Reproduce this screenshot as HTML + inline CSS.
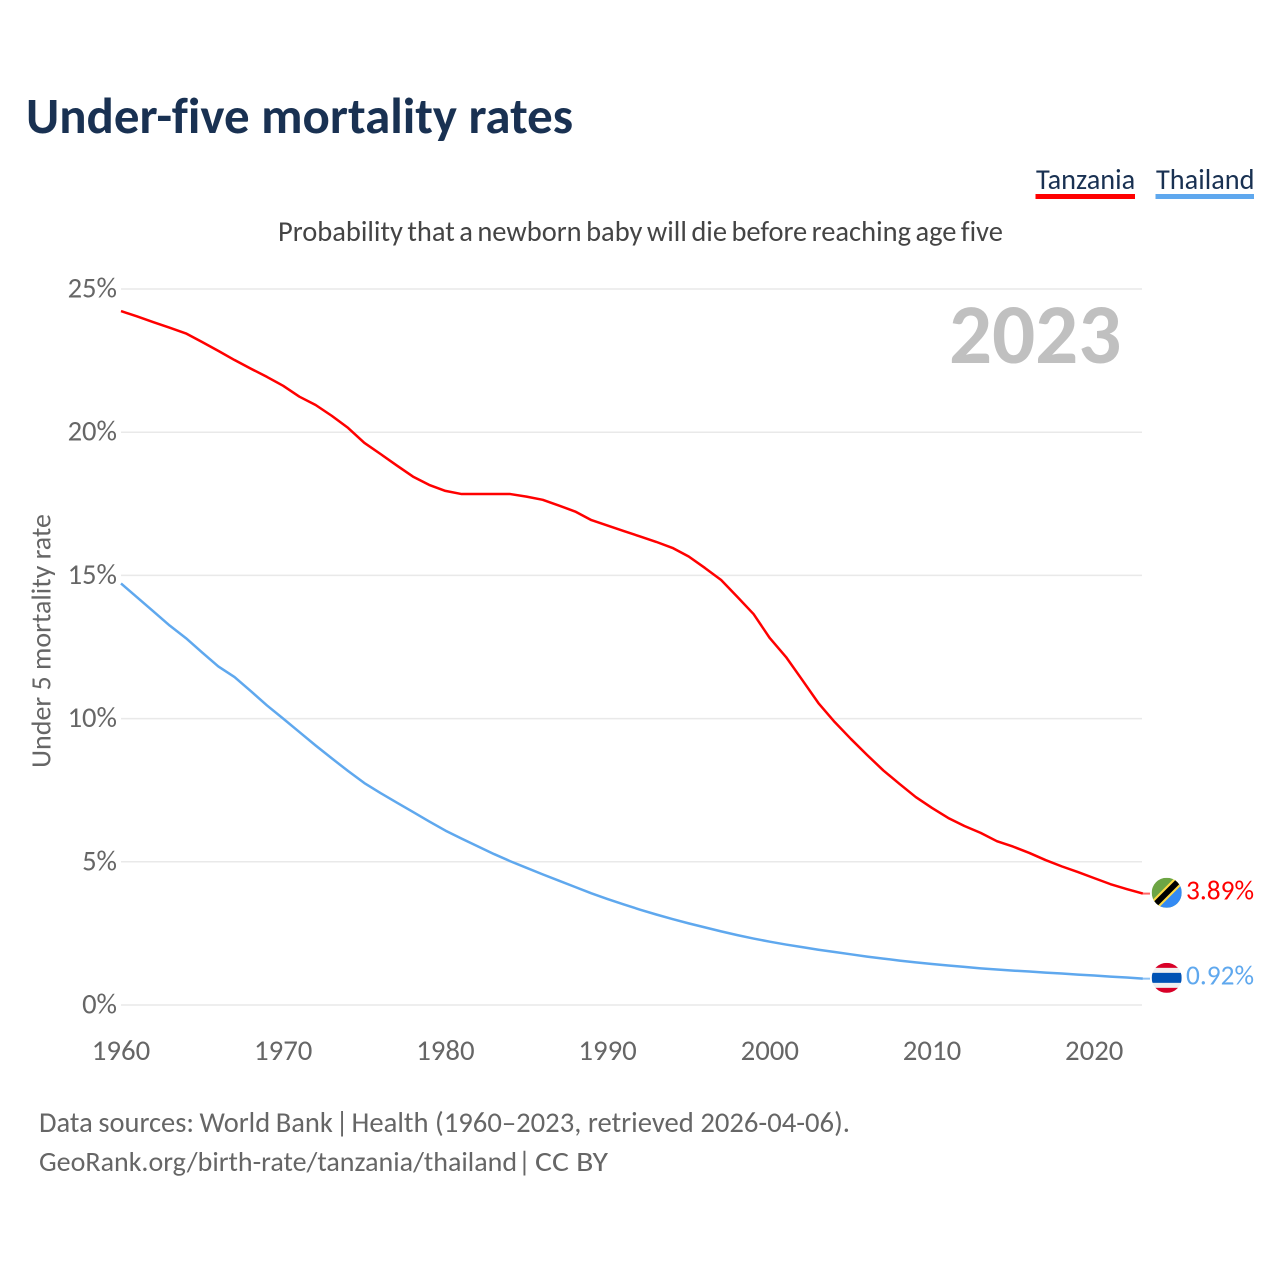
<!DOCTYPE html>
<html lang="en">
<head>
<meta charset="utf-8">
<title>Under-five mortality rates</title>
<style>
html,body{margin:0;padding:0;background:#fff;width:1280px;height:1280px;overflow:hidden}
svg{display:block}
text{font-family:"Carlito","Lato","Liberation Sans",sans-serif;font-variant-ligatures:none}
</style>
</head>
<body>
<svg id="chart" xmlns="http://www.w3.org/2000/svg" width="1280" height="1280" viewBox="0 0 1280 1280">
  <defs>
    <clipPath id="flag-clip"><circle cx="0" cy="0" r="15"></circle></clipPath>
  </defs>
  <rect x="0" y="0" width="1280" height="1280" fill="#ffffff"></rect>
  <text x="26" y="133" font-size="50.9" font-weight="700" fill="#193152">Under-five mortality rates</text>
  <g>
    <text x="1036" y="189" font-size="28.3" fill="#193152">Tanzania</text>
    <rect x="1035.5" y="194" width="99.5" height="5" fill="#ff0000"></rect>
    <text x="1156" y="189" font-size="28.3" fill="#193152">Thailand</text>
    <rect x="1155.5" y="194" width="98.5" height="5" fill="#5fa8ee"></rect>
  </g>
  <text x="278" y="241" font-size="28.5" word-spacing="-2" fill="#444444">Probability that a newborn baby will die before reaching age five</text>
  <g id="grid"></g>
  <g id="y-ticks"></g>
  <g id="x-ticks"></g>
  <text transform="translate(50.5,641) rotate(-90)" text-anchor="middle" font-size="28" fill="#666666">Under 5 mortality rate</text>
  <text x="949" y="363" font-size="85" font-weight="700" fill="#c0c0c0">2023</text>
  <g id="series"></g>
  <g id="flag-tanzania" clip-path="url(#flag-clip)">
    <rect x="-15" y="-15" width="30" height="30" fill="#6da544"></rect>
    <polygon points="15,-15 15,15 -15,15" fill="#338af3"></polygon>
    <polygon points="-16,9 9,-16 16,-9 -9,16" fill="#ffda44"></polygon>
    <polygon points="-16,12 12,-16 16,-12 -12,16" fill="#000000"></polygon>
  </g>
  <g id="flag-thailand" clip-path="url(#flag-clip)">
    <rect x="-15" y="-15" width="30" height="30" fill="#f0f0f0"></rect>
    <rect x="-15" y="-15" width="30" height="5" fill="#d80027"></rect>
    <rect x="-15" y="-5" width="30" height="10" fill="#0052b4"></rect>
    <rect x="-15" y="10" width="30" height="5" fill="#d80027"></rect>
  </g>
  <g id="end-labels"></g>
  <g font-size="28.5" fill="#666666">
    <text x="39" y="1132" word-spacing="-0.9">Data sources: World Bank</text>
    <text x="342" y="1132" text-anchor="middle">|</text>
    <text x="351.5" y="1132" textLength="498.5" lengthAdjust="spacingAndGlyphs">Health (1960–2023, retrieved 2026-04-06).</text>
  </g>
  <g font-size="28" fill="#666666">
    <text x="39" y="1171">GeoRank.org/birth-rate/tanzania/thailand</text>
    <text x="524.5" y="1171" text-anchor="middle">|</text>
    <text x="535" y="1171" textLength="73" lengthAdjust="spacingAndGlyphs">CC BY</text>
  </g>
</svg>
<script>
const firstYear = 1960;
const tanzaniaValues = [
  24.23,24.04,23.84,23.65,23.45,23.15,22.84,22.52,22.22,21.93,
  21.62,21.24,20.95,20.57,20.15,19.63,19.24,18.84,18.45,18.16,
  17.95,17.84,17.84,17.84,17.84,17.75,17.64,17.44,17.23,16.93,
  16.74,16.55,16.36,16.17,15.96,15.66,15.26,14.84,14.25,13.65,
  12.81,12.15,11.35,10.54,9.88,9.29,8.73,8.19,7.72,7.26,
  6.88,6.53,6.25,6.01,5.72,5.53,5.31,5.06,4.84,4.64,
  4.43,4.22,4.05,3.89
];
const thailandValues = [
  14.72,14.23,13.74,13.25,12.81,12.31,11.82,11.45,10.96,10.46,
  10.00,9.53,9.06,8.61,8.17,7.75,7.40,7.07,6.74,6.41,
  6.09,5.81,5.54,5.27,5.02,4.79,4.56,4.34,4.12,3.90,
  3.70,3.51,3.33,3.16,3.00,2.85,2.71,2.57,2.44,2.32,
  2.21,2.11,2.02,1.93,1.85,1.77,1.69,1.62,1.55,1.49,
  1.43,1.38,1.33,1.28,1.24,1.20,1.17,1.13,1.10,1.06,
  1.03,0.99,0.96,0.92
];
const yTickValues = [0,5,10,15,20,25];
const xTickYears = [1960,1970,1980,1990,2000,2010,2020];

const SVG_NS = 'http://www.w3.org/2000/svg';
function xScale(year){ return 121 + (year - 1960) * 16.22; }
function yScale(value){ return 1005 - value * 28.64; }
function make(tag, parent){
  const el = document.createElementNS(SVG_NS, tag);
  parent.appendChild(el);
  return el;
}

const grid = document.getElementById('grid');
const yTicks = document.getElementById('y-ticks');
yTickValues.forEach(function(v){
  const line = make('line', grid);
  
  
  line.setAttribute('x1', 121);
  line.setAttribute('x2', 1142);
  line.setAttribute('y1', yScale(v));
  line.setAttribute('y2', yScale(v));
  line.setAttribute('stroke', '#e9e9e9');
  line.setAttribute('stroke-width', '1.5');
  const label = make('text', yTicks);
  
  
  label.setAttribute('x', 117);
  label.setAttribute('y', yScale(v) + 8.5);
  label.setAttribute('text-anchor', 'end');
  label.setAttribute('font-size', '28.6');
  label.setAttribute('fill', '#666666');
  label.textContent = v + '%';
});

const xTicks = document.getElementById('x-ticks');
xTickYears.forEach(function(yr){
  const label = make('text', xTicks);
  
  
  label.setAttribute('x', xScale(yr));
  label.setAttribute('y', 1060);
  label.setAttribute('text-anchor', 'middle');
  label.setAttribute('font-size', '28.8');
  label.setAttribute('fill', '#666666');
  label.textContent = yr;
});

function linePath(values){
  return values.map(function(v, i){
    return (i ? 'L' : 'M') + xScale(firstYear + i).toFixed(2) + ' ' + yScale(v).toFixed(2);
  }).join(' ');
}

const series = document.getElementById('series');
const endLabels = document.getElementById('end-labels');

function lastOf(values){ return values[values.length - 1]; }

const tanzaniaTail = make('line', series);


tanzaniaTail.setAttribute('x1', xScale(firstYear + tanzaniaValues.length - 1));
tanzaniaTail.setAttribute('x2', 1150);
tanzaniaTail.setAttribute('y1', yScale(lastOf(tanzaniaValues)));
tanzaniaTail.setAttribute('y2', yScale(lastOf(tanzaniaValues)));
tanzaniaTail.setAttribute('stroke', '#ff0000');
tanzaniaTail.setAttribute('stroke-opacity', '0.6');
tanzaniaTail.setAttribute('stroke-width', '2');

const thailandTail = make('line', series);


thailandTail.setAttribute('x1', xScale(firstYear + thailandValues.length - 1));
thailandTail.setAttribute('x2', 1150);
thailandTail.setAttribute('y1', yScale(lastOf(thailandValues)));
thailandTail.setAttribute('y2', yScale(lastOf(thailandValues)));
thailandTail.setAttribute('stroke', '#5fa8ee');
thailandTail.setAttribute('stroke-opacity', '0.7');
thailandTail.setAttribute('stroke-width', '2');

const tanzaniaLine = make('path', series);


tanzaniaLine.setAttribute('d', linePath(tanzaniaValues));
tanzaniaLine.setAttribute('fill', 'none');
tanzaniaLine.setAttribute('stroke', '#ff0000');
tanzaniaLine.setAttribute('stroke-width', '2.5');
tanzaniaLine.setAttribute('stroke-linejoin', 'round');

const thailandLine = make('path', series);


thailandLine.setAttribute('d', linePath(thailandValues));
thailandLine.setAttribute('fill', 'none');
thailandLine.setAttribute('stroke', '#5fa8ee');
thailandLine.setAttribute('stroke-width', '2.5');
thailandLine.setAttribute('stroke-linejoin', 'round');

const tanzaniaEnd = make('text', endLabels);


tanzaniaEnd.setAttribute('x', 1186);
tanzaniaEnd.setAttribute('y', yScale(lastOf(tanzaniaValues)) + 6);
tanzaniaEnd.setAttribute('font-size', '28');
tanzaniaEnd.setAttribute('fill', '#ff0000');
tanzaniaEnd.setAttribute('textLength', 68);
tanzaniaEnd.setAttribute('lengthAdjust', 'spacingAndGlyphs');
tanzaniaEnd.textContent = lastOf(tanzaniaValues).toFixed(2) + '%';

const thailandEnd = make('text', endLabels);


thailandEnd.setAttribute('x', 1186);
thailandEnd.setAttribute('y', yScale(lastOf(thailandValues)) + 6);
thailandEnd.setAttribute('font-size', '28');
thailandEnd.setAttribute('fill', '#5fa8ee');
thailandEnd.setAttribute('textLength', 68);
thailandEnd.setAttribute('lengthAdjust', 'spacingAndGlyphs');
thailandEnd.textContent = lastOf(thailandValues).toFixed(2) + '%';

function placeFlag(id, value){
  const flag = document.getElementById(id);
  const wrap = document.createElementNS(SVG_NS, 'g');
  wrap.setAttribute('transform', 'translate(1166.7,' + (yScale(value) - 0.8).toFixed(2) + ')');
  flag.parentNode.insertBefore(wrap, flag);
  wrap.appendChild(flag);
}
placeFlag('flag-tanzania', lastOf(tanzaniaValues));
placeFlag('flag-thailand', lastOf(thailandValues));
</script>
</body>
</html>
